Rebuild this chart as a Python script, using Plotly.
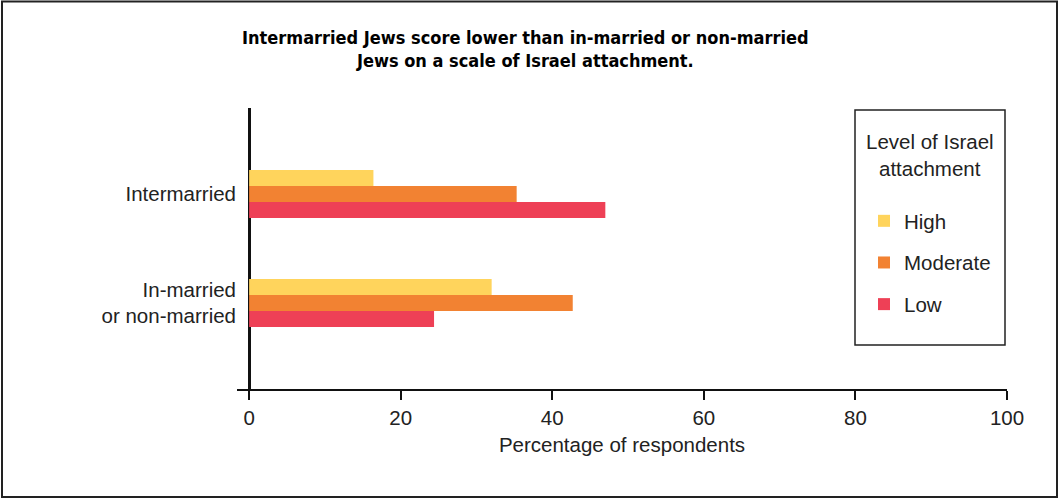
import plotly.graph_objects as go

categories = ["In-married<br>or non-married", "Intermarried"]
levels = ["Low", "Moderate", "High"]
values = {
    "High": [32, 16.4],
    "Moderate": [42.7, 35.3],
    "Low": [24.4, 47],
}
ranks = {"High": 1, "Moderate": 2, "Low": 3}
colors = {"High": "#FFD45C", "Moderate": "#F28232", "Low": "#EE4056"}
x_ticks = [0, 20, 40, 60, 80, 100]

W, H = 1059, 499
L, R, T, B = 237, 52, 108, 110
pw, ph = W - L - R, H - T - B

def px(x):
    return (x - L) / pw

def py(y):
    return (H - B - y) / ph

FONT = "Liberation Sans"
FS = 20.5
TFONT = "DejaVu Sans Condensed, Liberation Sans"

fig = go.Figure()
for lv in levels:
    fig.add_trace(go.Bar(
        y=categories, x=values[lv], name=lv, orientation="h",
        marker=dict(color=colors[lv], line=dict(width=0)),
        legendgroup=lv, legendrank=ranks[lv],
    ))

fig.update_layout(
    width=W, height=H,
    margin=dict(l=L, r=R, t=T, b=B),
    paper_bgcolor="white", plot_bgcolor="white",
    barmode="group", bargap=0.56, bargroupgap=0,
    font=dict(family=FONT, size=FS, color="#222"),
    showlegend=True,
    legend=dict(
        traceorder="grouped", tracegroupgap=12,
        x=px(864), xanchor="left", y=py(201), yanchor="top",
        bgcolor="rgba(0,0,0,0)", borderwidth=0,
        font=dict(size=FS, color="#222"),
    ),
    xaxis=dict(
        range=[-1.6, 100], tickvals=x_ticks, ticktext=[str(v) for v in x_ticks],
        showgrid=False, showline=True, linecolor="#111", linewidth=2,
        ticks="outside", ticklen=9, tickwidth=2, tickcolor="#111",
        zeroline=True, zerolinecolor="#111", zerolinewidth=3,
        title=dict(text="Percentage of respondents", standoff=10,
                   font=dict(size=FS, color="#222")),
        tickfont=dict(size=FS, color="#222"),
    ),
    yaxis=dict(
        type="category", categoryorder="array", categoryarray=categories,
        range=[-0.79, 1.79], showgrid=False, showline=False, zeroline=False,
        ticks="", tickfont=dict(size=FS, color="#222"),
    ),
    shapes=[
        dict(type="rect", xref="paper", yref="paper",
             x0=px(855), x1=px(1005), y0=py(345), y1=py(110),
             line=dict(color="#222", width=1.5), fillcolor="rgba(0,0,0,0)"),
        dict(type="rect", xref="paper", yref="paper",
             x0=px(2), x1=px(1057), y0=py(497), y1=py(1.5),
             line=dict(color="#222", width=2), fillcolor="rgba(0,0,0,0)"),
    ],
    annotations=[
        dict(text="<b>Intermarried Jews score lower than in-married or non-married</b>",
             xref="paper", yref="paper", x=px(525), y=py(37), xanchor="center", yanchor="middle",
             showarrow=False, font=dict(family=TFONT, size=18, color="#000")),
        dict(text="<b>Jews on a scale of Israel attachment.</b>",
             xref="paper", yref="paper", x=px(525), y=py(60), xanchor="center", yanchor="middle",
             showarrow=False, font=dict(family=TFONT, size=18, color="#000")),
        dict(text="Level of Israel", xref="paper", yref="paper", x=px(930), y=py(141),
             xanchor="center", yanchor="middle", showarrow=False,
             font=dict(size=FS, color="#222")),
        dict(text="attachment", xref="paper", yref="paper", x=px(930), y=py(168),
             xanchor="center", yanchor="middle", showarrow=False,
             font=dict(size=FS, color="#222")),
    ],
)

fig.write_html("out.html", config={"displayModeBar": False},
               post_script="document.body.style.margin='0';")
